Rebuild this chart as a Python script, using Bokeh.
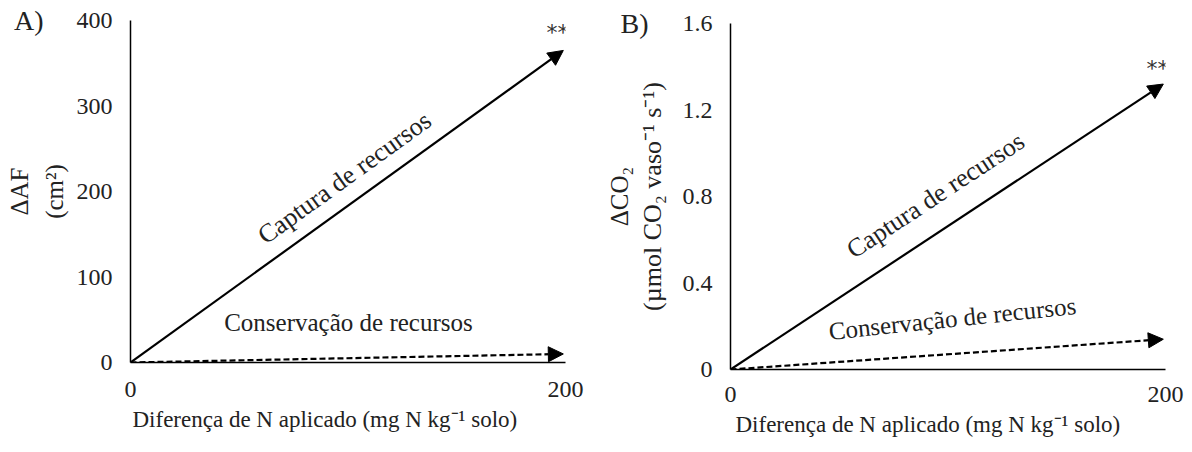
import math
from bokeh.plotting import figure
from bokeh.models import (Arrow, NormalHead, Label, ColumnDataSource, FixedTicker, Range1d, Title,
                          LinearAxis)
from bokeh.layouts import row, column
from bokeh.embed import file_html
from bokeh.resources import INLINE

# ---- data ----
x_ticks = [0, 200]
a_y_ticks = [0, 100, 200, 300, 400]
b_y_ticks = [0, 0.4, 0.8, 1.2, 1.6]
series = ["Captura de recursos", "Conservação de recursos"]
x_start = [0, 0]
y_start = [0, 0]
x_end = [199, 199]
a_values = [365, 10]        # ΔAF (cm²)
b_values = [1.32, 0.14]     # ΔCO2
a_signif = "**"
b_signif = "**"
x_title = "Diferença de N aplicado (mg N kg⁻¹ solo)"

FONT = "Liberation Serif"
COL = "#222222"
W, H = 596, 452


def make_panel(ymax, yticks, values, frame, letter, ylab1, ylab2, ylab_standoffs, ylab2_size,
               letter_standoff, cap_pos, cons_pos, cons_angle, sig_pos, sig, xoff, xtick_standoff,
               overrides=None):
    fl, fr, ft, fb = frame  # frame left/right/top/bottom in canvas px
    p = figure(width=W, height=H, x_range=Range1d(0, 200), y_range=Range1d(0, ymax),
               output_backend="svg", toolbar_location=None,
               min_border_left=fl, min_border_right=W - fr,
               min_border_top=ft, min_border_bottom=H - fb)
    p.xgrid.visible = False
    p.ygrid.visible = False
    p.outline_line_color = None
    p.background_fill_color = "white"
    p.border_fill_color = "white"
    for ax in (p.xaxis[0], p.yaxis[0]):
        ax.major_tick_line_color = None
        ax.minor_tick_line_color = None
        ax.major_tick_out = 0
        ax.major_tick_in = 0
        ax.axis_line_color = "black"
        ax.axis_line_width = 1.5
        ax.major_label_text_font = FONT
        ax.major_label_text_font_size = "24px"
        ax.major_label_text_color = COL
    p.xaxis.ticker = FixedTicker(ticks=x_ticks)
    p.yaxis.ticker = FixedTicker(ticks=yticks)
    p.xaxis.major_label_standoff = xtick_standoff
    p.yaxis.major_label_standoff = 18
    if overrides:
        p.yaxis.major_label_overrides = overrides

    fh = fb - ft
    fw = fr - fl

    src_solid = ColumnDataSource(dict(x0=[x_start[0]], y0=[y_start[0]], x1=[x_end[0]], y1=[values[0]]))
    src_dash = ColumnDataSource(dict(x0=[x_start[1]], y0=[y_start[1]], x1=[x_end[1]], y1=[values[1]]))
    p.add_layout(Arrow(end=NormalHead(size=15, fill_color="black", line_color="black", line_width=1),
                       x_start="x0", y_start="y0", x_end="x1", y_end="y1", source=src_solid,
                       line_width=2.2, line_color="black"))
    p.add_layout(Arrow(end=NormalHead(size=15, fill_color="black", line_color="black", line_width=1),
                       x_start="x0", y_start="y0", x_end="x1", y_end="y1", source=src_dash,
                       line_width=2.2, line_color="black", line_dash="6 3"))

    cap_angle = math.atan2(values[0] / ymax * fh, x_end[0] / 200 * fw)
    p.add_layout(Label(x=cap_pos[0], y=cap_pos[1], text=series[0], angle=cap_angle,
                       text_font=FONT, text_font_size="26px", text_align="center",
                       text_baseline="middle", text_color=COL))
    p.add_layout(Label(x=cons_pos[0], y=cons_pos[1], text=series[1], angle=math.radians(cons_angle),
                       text_font=FONT, text_font_size="25px", text_align="center",
                       text_baseline="middle", text_color=COL))
    p.add_layout(Label(x=sig_pos[0], y=sig_pos[1], text=sig, text_font="DejaVu Sans",
                       text_font_size="22px", text_align="center", text_baseline="middle",
                       text_color="#333333"))

    # y-axis titles (nearest first)
    p.add_layout(Title(text=ylab2, align="center", text_font=FONT, text_font_size=ylab2_size,
                       text_font_style="normal", text_color=COL, standoff=ylab_standoffs[0]), "left")
    p.add_layout(Title(text=ylab1, align="center", text_font=FONT, text_font_size="25px",
                       text_font_style="normal", text_color=COL, standoff=ylab_standoffs[1]), "left")
    # panel letter: an outer axis with a single label at the top of the y range
    letter_axis = LinearAxis(ticker=FixedTicker(ticks=[ymax]),
                             major_label_overrides={ymax: letter},
                             axis_line_color=None, major_tick_line_color=None,
                             minor_tick_line_color=None, major_tick_out=0, major_tick_in=0,
                             major_label_standoff=letter_standoff, major_label_text_font=FONT,
                             major_label_text_font_size="28px", major_label_text_color=COL)
    p.add_layout(letter_axis, "left")
    # x-axis title
    p.add_layout(Title(text=x_title, align="left", offset=xoff, text_font=FONT,
                       text_font_size="23px", text_font_style="normal", text_color=COL,
                       standoff=10), "below")
    return p


pa = make_panel(400, a_y_ticks, a_values, (130, 565, 20, 362), "A)", "ΔAF", "(cm²)", (12, 0),
                "25px", -40, (98.4, 216), (100.2, 47), 0, (196.3, 386), a_signif, 2, 19)
pb = make_panel(1.6, b_y_ticks, b_values, (134, 569, 23, 369), "B)", "ΔCO₂",
                "(µmol CO₂ vaso⁻¹ s⁻¹)", (25, -18), "26px", -36,
                (94.3, 0.805), (102, 0.236), 6, (196.3, 1.39), b_signif, 5, 17,
                overrides={0: "0"})

layout = row(column(pa), column(pb))
open("out.html", "w").write(file_html(layout, INLINE))
